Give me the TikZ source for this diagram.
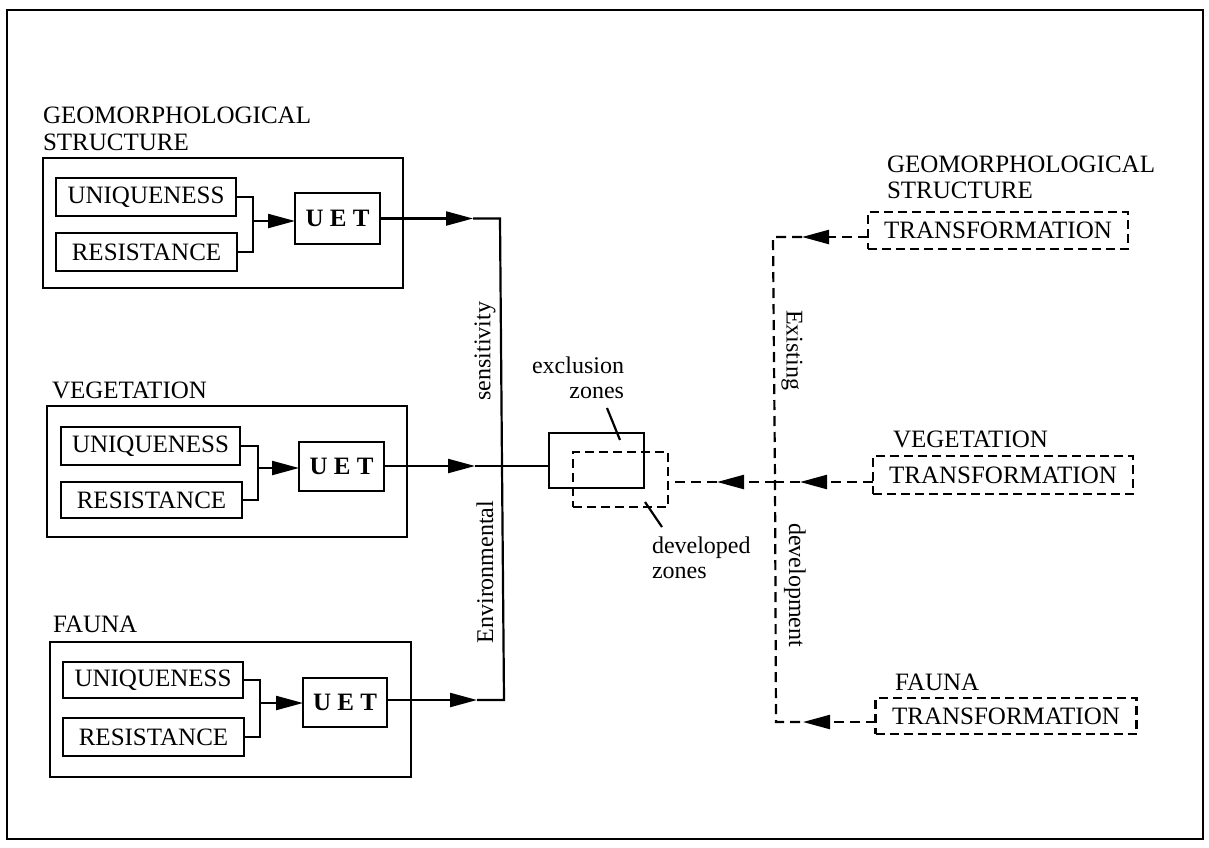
\documentclass[tikz,border=0pt]{standalone}
\usepackage{fontspec}
\setmainfont{Liberation Serif}
\usetikzlibrary{arrows.meta}
\begin{document}
\begin{tikzpicture}[x=1pt,y=-1pt,
  every node/.style={inner sep=0pt,outer sep=0pt},
  lw/.style={line width=2.2pt},
  capfont/.style={font=\fontsize{25}{27}\selectfont},
  smallfont/.style={font=\fontsize{24}{26}\selectfont},
  bigbox/.style={draw,lw},
  inbox/.style={draw,lw,capfont},
  uetbox/.style={draw,lw,font=\fontsize{25}{27}\selectfont\bfseries},
  tbox/.style={draw,lw,capfont,dash pattern=on 9pt off 5pt},
  dline/.style={lw,dash pattern=on 10pt off 6pt},
  arr/.style={lw,-{Triangle[length=27pt,width=14pt]}},
  darr/.style={dline,-{Triangle[length=27pt,width=14pt]}},
  lab/.style={capfont,anchor=base west},
  vlab/.style={smallfont}
]
\useasboundingbox (0,0) rectangle (1209,847);
\draw[line width=2.6pt] (7,10) rectangle (1203,839);

% ---------- left group 1 ----------
\node[lab] (g1a) at (43,123) {GEOMORPHOLOGICAL};
\node[lab] (g1b) at (43,150) {STRUCTURE};
\node[bigbox,minimum width=360pt,minimum height=130pt] (o1) at (223,223) {};
\node[inbox,minimum width=180pt,minimum height=38pt] (u1) at (146,197) {UNIQUENESS};
\node[inbox,minimum width=181pt,minimum height=38pt] (r1) at (146.5,252) {RESISTANCE};
\node[uetbox,minimum width=85pt,minimum height=51pt] (e1) at (337.5,218.5) {U E T};
\coordinate (b1) at (253,221);
\draw[lw] (u1.east) -| (b1) |- (r1.east);
\draw[arr] (b1) -- (e1.west |- b1);

% ---------- left group 2 ----------
\node[lab] (g2a) at (52,398) {VEGETATION};
\node[bigbox,minimum width=360pt,minimum height=131pt] (o2) at (227,471.5) {};
\node[inbox,minimum width=179pt,minimum height=38pt] (u2) at (150.5,446) {UNIQUENESS};
\node[inbox,minimum width=181pt,minimum height=36pt] (r2) at (151.5,500) {RESISTANCE};
\node[uetbox,minimum width=85pt,minimum height=49pt] (e2) at (341.5,466.5) {U E T};
\coordinate (b2) at (258,468);
\draw[lw] (u2.east) -| (b2) |- (r2.east);
\draw[arr] (b2) -- (e2.west |- b2);

% ---------- left group 3 ----------
\node[lab] (g3a) at (53,632) {FAUNA};
\node[bigbox,minimum width=361pt,minimum height=135pt] (o3) at (230.5,709.5) {};
\node[inbox,minimum width=180pt,minimum height=36pt] (u3) at (153,680) {UNIQUENESS};
\node[inbox,minimum width=181pt,minimum height=38pt] (r3) at (153.5,737) {RESISTANCE};
\node[uetbox,minimum width=84pt,minimum height=49pt] (e3) at (345,702.5) {U E T};
\coordinate (b3) at (260,703);
\draw[lw] (u3.east) -| (b3) |- (r3.east);
\draw[arr] (b3) -- (e3.west |- b3);

% ---------- centre ----------
\node[draw,lw,minimum width=95pt,minimum height=55pt] (ex) at (596.5,460.5) {};
\node[draw,lw,dash pattern=on 9pt off 5pt,minimum width=95pt,minimum height=55pt] (dv) at (620.5,479.5) {};

\coordinate (v1) at (500,218.5);
\coordinate (v2) at (502,466);
\coordinate (v3) at (504,700);
\coordinate (k1) at (473,218.5);
\coordinate (k2) at (475,466);
\coordinate (k3) at (477,700);
\draw[arr] (e1.east) -- (k1);
\draw[arr] (e2.east |- k2) -- (k2);
\draw[arr] (e3.east |- k3) -- (k3);
\draw[lw] (k1) -- (v1) -- (v2) -- (v3) -- (k3);
\draw[lw] (k2) -- (v2) -- (ex.west |- v2);

\node[vlab,rotate=90] (sens) at (485,351) {sensitivity};
\node[vlab,rotate=90] (env) at (485,572) {Environmental};

\node[smallfont,anchor=base east] (exa) at (624,373) {exclusion};
\node[smallfont,anchor=base east] (exb) at (624,398) {zones};
\coordinate (p1) at (607,408);
\coordinate (p2) at (620,440);
\draw[lw] (p1) -- (p2);
\node[smallfont,anchor=base west] (dva) at (652,553) {developed};
\node[smallfont,anchor=base west] (dvb) at (652,578) {zones};
\coordinate (q1) at (645,502);
\coordinate (q2) at (662,527);
\draw[lw] (q1) -- (q2);

% ---------- right column ----------
\node[lab] (h1a) at (887,172) {GEOMORPHOLOGICAL};
\node[lab] (h1b) at (887,198) {STRUCTURE};
\node[tbox,minimum width=260pt,minimum height=37pt] (t1) at (998,230.5) {TRANSFORMATION};
\node[lab] (h2a) at (893,447) {VEGETATION};
\node[tbox,minimum width=260pt,minimum height=38pt] (t2) at (1003,475) {TRANSFORMATION};
\node[lab] (h3a) at (895,690) {FAUNA};
\node[tbox,minimum width=261pt,minimum height=36pt] (t3) at (1006,716) {TRANSFORMATION};

\coordinate (c1) at (773,237);
\coordinate (c2) at (775,482);
\coordinate (c3) at (776,722);
\coordinate (s1) at (802,237);
\coordinate (s2) at (800,482);
\coordinate (s3) at (803,722);
\coordinate (sm) at (717,482);
\draw[darr] (t1.west |- s1) -- (s1);
\draw[darr] (t2.west |- s2) -- (s2);
\draw[darr] (t3.west |- s3) -- (s3);
\draw[dline] (s1) -- (c1) -- (c2) -- (c3) -- (s3);
\draw[dline] (s2) -- (c2);
\draw[darr] (c2) -- (sm);
\draw[dline] (sm) -- (dv.east |- sm);

\node[vlab,rotate=-90] (exi) at (792,350) {Existing};
\node[vlab,rotate=-90] (dev) at (795,585) {development};
\end{tikzpicture}
\end{document}
